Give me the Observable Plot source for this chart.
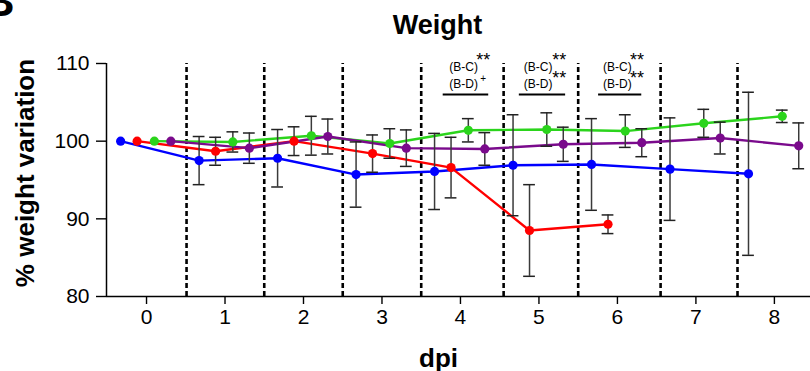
<!DOCTYPE html>
<html>
<head>
<meta charset="utf-8">
<script src="https://cdn.jsdelivr.net/npm/d3@7"></script>
<script src="https://cdn.jsdelivr.net/npm/@observablehq/plot@0.6"></script>
<style>
  html, body { margin: 0; padding: 0; background: #fff; }
  svg { font-family: "Liberation Sans", Arial, sans-serif; }
</style>
</head>
<body>
<div id="chart"></div>
<script>
// ---- data ----
const days = [0, 1, 2, 3, 4, 5, 6, 7, 8];
const xTicks = [0, 1, 2, 3, 4, 5, 6, 7, 8];
const yTicks = [80, 90, 100, 110];

const blueMean   = [100, 97.5, 97.8, 95.7, 96.1, 96.9, 97.0, 96.4, 95.8];
const blueErr    = [0, 3.1, 3.7, 4.2, 4.9, 6.5, 5.9, 6.6, 10.5];
const redMean    = [100, 98.7, 100.0, 98.4, 96.6, 88.5, 89.3];
const redErr     = [0, 1.8, 1.85, 2.4, 3.9, 5.9, 1.2];
const greenMean  = [100, 99.9, 100.7, 99.7, 101.4, 101.5, 101.3, 102.3, 103.2];
const greenErr   = [0, 1.3, 2.5, 1.9, 1.5, 2.15, 2.1, 1.8, 0.8];
const purpleMean = [100, 99.1, 100.6, 99.1, 99.0, 99.6, 99.8, 100.4, 99.4];
const purpleErr  = [0, 1.95, 2.25, 2.35, 2.1, 2.2, 1.8, 2.05, 2.95];

// dashed day separators (in dpi units)
const separators = [0.51, 1.5, 2.5, 3.5, 4.55, 5.5, 6.55, 7.53];

// significance annotations
const sigCenter   = [4.04, 4.99, 6.0];
const sigTopLabel = ["(B-C)", "(B-C)", "(B-C)"];
const sigBotLabel = ["(B-D)", "(B-D)", "(B-D)"];
const sigBC       = ["**", "**", "**"];
const sigBD       = ["+", "**", "**"];
const sigStarX    = [4.29, 5.26, 6.25];
const sigBarStart = [3.78, 4.75, 5.76];
const sigBarEnd   = [4.36, 5.34, 6.31];
const sigLevels   = {top: 109.55, bot: 107.4, starBC: 110.4, starBD: 108.1, plus: 108.0, bar: 106.0};

// ---- styling / layout ----
const series = [
  {name: "blue",   color: "#0000ff", offset: -0.33, mean: blueMean,   err: blueErr},
  {name: "red",    color: "#ff0000", offset: -0.12, mean: redMean,    err: redErr},
  {name: "green",  color: "#2bd41c", offset: 0.10,  mean: greenMean,  err: greenErr},
  {name: "purple", color: "#7a0a8c", offset: 0.31,  mean: purpleMean, err: purpleErr}
];
const rows = series.flatMap(s => s.mean.map((m, i) => ({
  s: s.name, color: s.color, x: days[i] + s.offset, y: m, e: s.err[i]
})));
const capHalf = 0.075;
const errRows = rows.filter(d => d.e > 0);
const sig = sigCenter.map((c, i) => ({
  c, top: sigTopLabel[i], bot: sigBotLabel[i], bc: sigBC[i], bd: sigBD[i],
  sx: sigStarX[i], x1: sigBarStart[i], x2: sigBarEnd[i]
}));

const W = 810, H = 371, mL = 106, mR = 0, mT = 63, mB = 75;

const chart = Plot.plot({
  width: W, height: H,
  marginLeft: mL, marginRight: mR, marginTop: mT, marginBottom: mB,
  style: {background: "#fff", color: "#000", fontFamily: "Liberation Sans, Arial, sans-serif", overflow: "visible"},
  x: {domain: [-0.51, 8.46], label: null},
  y: {domain: [80, 110], label: null},
  marks: [
    // dashed separators
    Plot.ruleX(separators, {y1: 80, y2: 110, stroke: "#000", strokeWidth: 2.6, strokeDasharray: "5,3"}),
    // axes
    Plot.axisY({ticks: yTicks, tickSize: 10, tickPadding: 7, fontSize: 21, tickFormat: d => String(d), strokeWidth: 1.4}),
    Plot.axisX({ticks: xTicks, tickSize: 8, tickPadding: 5, fontSize: 21, tickFormat: d => String(d), strokeWidth: 1.4}),
    Plot.ruleX([-0.51], {y1: 80, y2: 110, stroke: "#000", strokeWidth: 1.5}),
    Plot.ruleY([80], {stroke: "#000", strokeWidth: 1.5}),
    // lines
    Plot.line(rows, {x: "x", y: "y", z: "s", stroke: "color", strokeWidth: 2.4}),
    // error bars
    Plot.ruleX(errRows, {x: "x", y1: d => d.y - d.e, y2: d => d.y + d.e, stroke: "#3a3a3a", strokeWidth: 1.5}),
    Plot.ruleY(errRows, {y: d => d.y - d.e, x1: d => d.x - capHalf, x2: d => d.x + capHalf, stroke: "#222", strokeWidth: 1.5}),
    Plot.ruleY(errRows, {y: d => d.y + d.e, x1: d => d.x - capHalf, x2: d => d.x + capHalf, stroke: "#222", strokeWidth: 1.5}),
    // dots
    Plot.dot(rows, {x: "x", y: "y", fill: "color", r: 4.6}),
    // significance annotations
    Plot.text(sig, {x: "c", y: () => sigLevels.top, text: "top", fontSize: 12, fill: "#000"}),
    Plot.text(sig, {x: "c", y: () => sigLevels.bot, text: "bot", fontSize: 12, fill: "#000"}),
    Plot.text(sig, {x: "sx", y: () => sigLevels.starBC, text: "bc", fontSize: 18, fill: "#000"}),
    Plot.text(sig.filter(d => d.bd === "**"), {x: "sx", y: () => sigLevels.starBD, text: "bd", fontSize: 18, fill: "#000"}),
    Plot.text(sig.filter(d => d.bd === "+"), {x: "sx", y: () => sigLevels.plus, text: "bd", fontSize: 10, fill: "#000"}),
    Plot.ruleY(sig, {y: () => sigLevels.bar, x1: "x1", x2: "x2", stroke: "#000", strokeWidth: 2}),
    // titles & labels
    Plot.text(["Weight"], {frameAnchor: "top-left", dx: 437 - mL, dy: 33 - mT, lineAnchor: "bottom", textAnchor: "middle", fontSize: 27, fontWeight: "bold", fill: "#000"}),
    Plot.text(["% weight variation"], {frameAnchor: "left", dx: 33 - mL, dy: -7, rotate: -90, lineAnchor: "bottom", textAnchor: "middle", fontSize: 26, fontWeight: "bold", fill: "#000"}),
    Plot.text(["dpi"], {frameAnchor: "bottom-left", dx: 438 - mL, dy: 366 - (H - mB), lineAnchor: "bottom", textAnchor: "middle", fontSize: 26, fontWeight: "bold", fill: "#000"}),
    Plot.text(["B"], {frameAnchor: "top-left", dx: 14 - mL, dy: 15 - mT, lineAnchor: "bottom", textAnchor: "end", fontSize: 44, fontWeight: "bold", fill: "#000"})
  ]
});
document.getElementById("chart").appendChild(chart);
</script>
</body>
</html>
